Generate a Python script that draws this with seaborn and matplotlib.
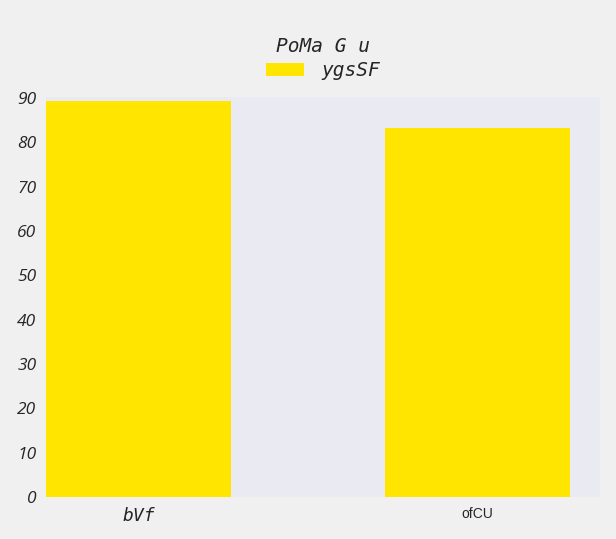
import matplotlib
matplotlib.use("Agg")
import matplotlib.pyplot as plt
import seaborn as sns
import pandas as pd

# data
categories = ["bVf", "ofCU"]
values = [89.4, 83.3]
series_name = "ygsSF"
legend_title = "PoMa G u"

sns.set_theme(style="dark")
plt.rcParams["figure.facecolor"] = "#f0f0f0"
plt.rcParams["axes.facecolor"] = "#eaeaf2"

df = pd.DataFrame({"cat": categories, "val": values, "series": series_name})

fig, ax = plt.subplots(figsize=(6.16, 5.39), dpi=100)
fig.subplots_adjust(left=0.075, right=0.974, top=0.82, bottom=0.078)

sns.barplot(data=df, x="cat", y="val", hue="series", palette=["#ffe500"],
            width=0.547, saturation=1, linewidth=0, ax=ax)

ax.set_xlim(-0.273, 1.363)
ax.set_ylim(0, 90.2)
ax.set_yticks(range(0, 91, 10))
ax.set_xlabel("")
ax.set_ylabel("")
for s in ax.spines.values():
    s.set_visible(False)
ax.tick_params(axis="y", length=0, pad=7)
ax.tick_params(axis="x", length=0, pad=7)

for lab in ax.get_yticklabels():
    lab.set_family("Open Sans")
    lab.set_style("italic")
    lab.set_fontsize(12.5)
    lab.set_color("#262626")

xl = ax.get_xticklabels()
xl[0].set_family("DejaVu Sans Mono")
xl[0].set_style("italic")
xl[0].set_fontsize(13)
xl[1].set_family("Liberation Sans")
xl[1].set_fontsize(10)
for lab in xl:
    lab.set_color("#262626")

leg = ax.legend(title=legend_title, loc="lower center", bbox_to_anchor=(0.5, 1.0),
                frameon=False, handlelength=1.95, handleheight=0.7,
                handletextpad=0.85, borderaxespad=0.45,
                prop={"family": "DejaVu Sans Mono", "style": "italic", "size": 14})
leg.get_title().set_family("DejaVu Sans Mono")
leg.get_title().set_style("italic")
leg.get_title().set_fontsize(14)
leg.get_title().set_color("#262626")
leg._legend_box.sep = 4
for t in leg.get_texts():
    t.set_color("#262626")

fig.savefig("out.png", dpi=100, facecolor=fig.get_facecolor())
